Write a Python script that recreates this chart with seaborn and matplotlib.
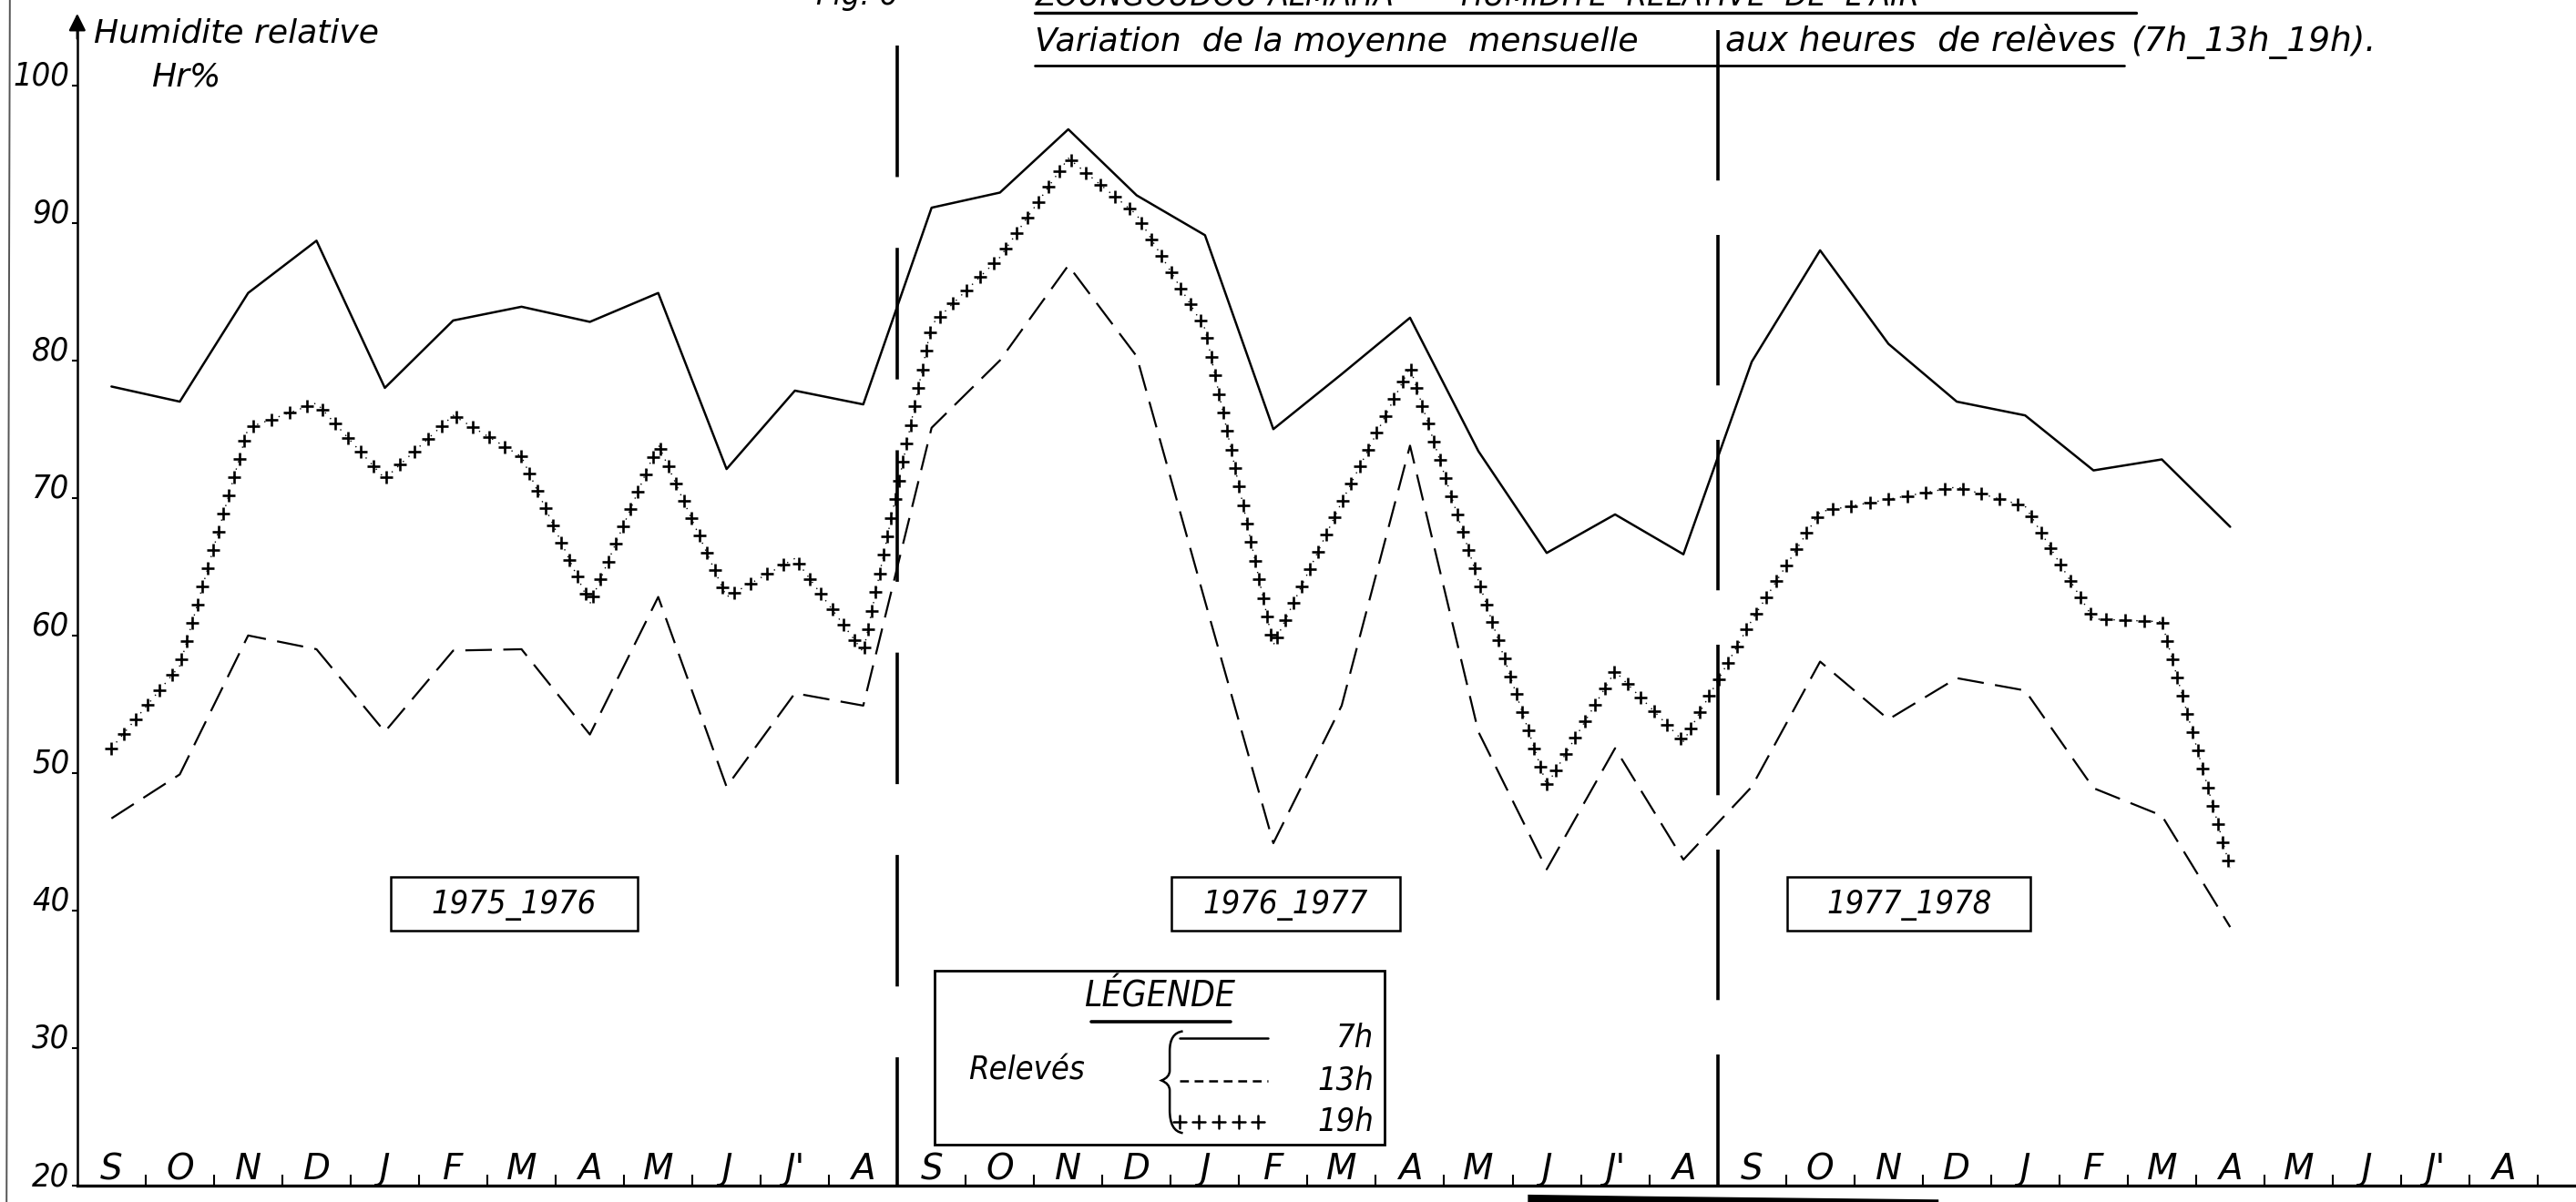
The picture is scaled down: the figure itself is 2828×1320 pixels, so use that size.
import numpy as np
import pandas as pd
import matplotlib
matplotlib.use("Agg")
import matplotlib.pyplot as plt
import seaborn as sns
from matplotlib.path import Path
from matplotlib.patches import Rectangle, PathPatch, Polygon
from matplotlib.lines import Line2D
from matplotlib.patheffects import AbstractPathEffect, Normal
from matplotlib.transforms import Affine2D, IdentityTransform

# ---------------------------------------------------------------- data
months = ["S", "O", "N", "D", "J", "F", "M", "A", "M", "J", "J'", "A"]
seasons = ["1975_1976", "1976_1977", "1977_1978"]

# monthly mean relative humidity (%) at the three reading hours, Sept 1975 -> April 1978
hr_7h = [78.1, 77.0, 84.9, 88.7, 78.0, 82.9, 83.9, 82.8, 84.9, 72.1, 77.8, 76.8,
         91.1, 92.2, 96.8, 92.0, 89.1, 75.0, 79.0, 83.1, 73.4, 66.0, 68.8, 65.9,
         79.9, 88.0, 81.2, 77.0, 76.0, 72.0, 72.8, 67.9]
hr_13h = [46.7, 49.9, 60.0, 59.0, 53.0, 58.9, 59.0, 52.8, 62.8, 49.0, 55.8, 54.9,
          75.1, 80.0, 86.9, 80.3, 62.5, 44.9, 54.9, 73.8, 53.0, 43.0, 51.8, 43.7,
          49.0, 58.1, 53.9, 56.9, 56.0, 48.9, 46.9, 38.8]
hr_19h = [51.8, 57.8, 75.1, 76.9, 71.4, 76.0, 73.0, 62.3, 73.9, 62.8, 65.6, 58.8,
          82.6, 87.5, 94.7, 90.6, 82.3, 59.3, 69.7, 79.5, 64.0, 49.1, 57.4, 52.3,
          61.1, 69.0, 69.9, 70.8, 69.4, 61.2, 61.0, 43.1]
y_ticks = [20, 30, 40, 50, 60, 70, 80, 90, 100]


# ------------------------------------------------- "+++++" line style
class CrossStroke(AbstractPathEffect):
    """Stamp upright '+' crosses at a regular spacing along a drawn path."""

    def __init__(self, spacing=15, size=10, linewidth=1.8):
        super().__init__()
        self._spacing = spacing
        self._size = size
        self._lw = linewidth

    def draw_path(self, renderer, gc, tpath, affine, rgbFace=None):
        verts = affine.transform(tpath.vertices)
        verts = verts[np.isfinite(verts).all(axis=1)]
        if len(verts) < 2:
            return
        step = renderer.points_to_pixels(self._spacing)
        seg = np.hypot(*np.diff(verts, axis=0).T)
        arc = np.concatenate([[0.0], np.cumsum(seg)])
        s = np.arange(0.0, arc[-1] + 1e-9, step)
        px = np.interp(s, arc, verts[:, 0])
        py = np.interp(s, arc, verts[:, 1])
        cross = Path([[-1, 0], [1, 0], [0, -1], [0, 1]],
                     [Path.MOVETO, Path.LINETO, Path.MOVETO, Path.LINETO])
        half = renderer.points_to_pixels(self._size) / 2.0
        gc0 = renderer.new_gc()
        gc0.copy_properties(gc)
        gc0.set_linewidth(self._lw)
        gc0.set_dashes(0, None)
        renderer.draw_markers(gc0, cross, Affine2D().scale(half),
                              Path(np.column_stack([px, py])), IdentityTransform())
        gc0.restore()


# ---------------------------------------------------------------- style
sns.set_theme(style="white")
plt.rcParams["font.family"] = ["DejaVu Sans"]
plt.rcParams["font.style"] = "oblique"
plt.rcParams["font.stretch"] = "condensed"
plt.rcParams["lines.scale_dashes"] = False
plt.rcParams["axes.edgecolor"] = "black"
plt.rcParams["text.color"] = "black"
plt.rcParams["ytick.color"] = "black"
plt.rcParams["xtick.color"] = "black"

INK = "black"
W, H = 1568.0, 732.0
WIDE = dict(fontstretch="normal")


def F(xs, ys):
    """Sheet position (layout grid of the drawing) -> figure fraction."""
    return xs / W, 1.0 - ys / H


fig = plt.figure(figsize=(28.28, 13.2), dpi=100, facecolor="white")
ax = fig.add_axes([0.0300, 0.0136, 0.9700, 0.9864])
ax.set_facecolor("white")

n = len(hr_7h)
df = pd.DataFrame({"mois": np.arange(n), "7h": hr_7h, "13h": hr_13h, "19h": hr_19h})
long = df.melt(id_vars="mois", var_name="releve", value_name="hr")

# 7h : solid
sns.lineplot(data=long[long.releve == "7h"], x="mois", y="hr", ax=ax,
             color=INK, lw=1.8, legend=False)
# 13h : long dashes
sns.lineplot(data=long[long.releve == "13h"], x="mois", y="hr", ax=ax,
             color=INK, lw=1.6, linestyle=(0, (21, 9)), legend=False)
# 19h : crosses along a faint dotted guide
sns.lineplot(data=long[long.releve == "19h"], x="mois", y="hr", ax=ax,
             color=INK, lw=1.0, linestyle=(0, (1, 5)), legend=False)
ax.lines[-1].set_path_effects([Normal(), CrossStroke(spacing=15, size=10.5, linewidth=1.9)])

n_months = len(months) * len(seasons)
ax.set_xlim(-0.5, 36.06)
ax.set_ylim(20, 106.2)
ax.set_xlabel("")
ax.set_ylabel("")

# season separators (long-dash verticals)
for k, (top, pattern) in enumerate([(102.9, (104, 56)), (104.0, (119, 43))], start=1):
    xsep = k * len(months) - 0.5
    ax.plot([xsep, xsep], [top, 20], color=INK, lw=2.6, linestyle=(0, pattern),
            solid_capstyle="butt", dash_capstyle="butt")

# axes
for side in ("top", "right"):
    ax.spines[side].set_visible(False)
ax.spines["left"].set_linewidth(1.8)
ax.spines["left"].set_bounds(20, 104.4)
ax.spines["bottom"].set_linewidth(2.4)
ax.annotate("", xy=(-0.5, 105.4), xytext=(-0.5, 103.2),
            arrowprops=dict(arrowstyle="-|>", color=INK, lw=1.8, mutation_scale=28),
            annotation_clip=False)

ax.set_yticks(y_ticks)
ax.set_yticklabels([str(v) for v in y_ticks])
ax.tick_params(axis="y", direction="out", length=4, width=1.5, pad=2,
               labelsize=26, left=True)
for lbl in ax.get_yticklabels():
    lbl.set_va("baseline")
    lbl.set_fontstyle("oblique")

ax.set_xticks(np.arange(n_months) + 0.5)
ax.set_xticklabels([])
ax.tick_params(axis="x", direction="in", length=9, width=1.5, bottom=True)

month_labels = months * len(seasons)
for i, lab in enumerate(month_labels):
    ax.text(i, 20.45, lab, ha="center", va="baseline", fontsize=28, **WIDE)

# axis title
fig.text(*F(57, 20), "Humidite relative", ha="left", va="center", fontsize=26, **WIDE)
fig.text(*F(92, 47), "Hr%", ha="left", va="center", fontsize=26, **WIDE)

# figure heading (top line runs off the sheet)
fig.text(*F(497, 3), "Fig. 6", ha="left", va="baseline", fontsize=26)
fig.text(*F(630, 3), "ZOUNGOUDOU-ALMAHA  —  HUMIDITE  RELATIVE  DE  L'AIR",
         ha="left", va="baseline", fontsize=26)
fig.add_artist(Line2D(*zip(F(630, 8), F(1300, 8)), transform=fig.transFigure,
                      color=INK, lw=2.4))
fig.text(*F(630, 31), "Variation  de la moyenne  mensuelle", ha="left",
         va="baseline", fontsize=26, **WIDE)
fig.text(*F(1050, 31), "aux heures  de relèves", ha="left", va="baseline",
         fontsize=27, **WIDE)
fig.text(*F(1297, 31), "(7h_13h_19h).", ha="left", va="baseline", fontsize=27, **WIDE)
fig.add_artist(Line2D(*zip(F(630, 40), F(1293, 40)), transform=fig.transFigure,
                      color=INK, lw=2.0))

# season boxes
for lab, (x0, x1) in zip(seasons, [(238, 388), (713, 852), (1088, 1236)]):
    fx0, fy0 = F(x0, 567)
    fx1, fy1 = F(x1, 534)
    fig.add_artist(Rectangle((fx0, fy0), fx1 - fx0, fy1 - fy0, transform=fig.transFigure,
                             fill=False, edgecolor=INK, lw=1.8))
    fig.text(*F((x0 + x1) / 2, 551), lab, ha="center", va="center", fontsize=26)

# legend panel
lx0, ly0 = F(569, 697)
lx1, ly1 = F(843, 591)
fig.add_artist(Rectangle((lx0, ly0), lx1 - lx0, ly1 - ly0, transform=fig.transFigure,
                         fill=False, edgecolor=INK, lw=2.0))
fig.text(*F(706, 607), "LÉGENDE", ha="center", va="center", fontsize=28)
fig.add_artist(Line2D(*zip(F(664, 622), F(749, 622)), transform=fig.transFigure,
                      color=INK, lw=2.6))
fig.text(*F(625, 652), "Relevés", ha="center", va="center", fontsize=26)

brace_pts = [F(720, 628), F(712, 629), F(712, 640), F(712, 652), F(712, 656),
             F(707, 658), F(712, 660), F(712, 664), F(712, 676), F(712, 689),
             F(720, 690)]
brace_codes = [Path.MOVETO, Path.CURVE3, Path.CURVE3, Path.LINETO, Path.CURVE3,
               Path.CURVE3, Path.CURVE3, Path.CURVE3, Path.LINETO, Path.CURVE3,
               Path.CURVE3]
fig.add_artist(PathPatch(Path(brace_pts, brace_codes), transform=fig.transFigure,
                         fill=False, edgecolor=INK, lw=1.8))

sample_x = [718, 772]
legend_rows = [("7h", 632, dict(lw=1.8)),
               ("13h", 658, dict(lw=1.8, linestyle=(0, (7, 4.5)))),
               ("19h", 683, dict(lw=0.0))]
for lab, ys, kw in legend_rows:
    (ax0, ay), (ax1, _) = F(sample_x[0], ys), F(sample_x[1], ys)
    ln = Line2D([ax0, ax1], [ay, ay], transform=fig.transFigure, color=INK, **kw)
    if lab == "19h":
        ln.set_linewidth(0.01)
        ln.set_path_effects([CrossStroke(spacing=15.5, size=10, linewidth=1.8)])
    fig.add_artist(ln)
    fig.text(*F(836, ys), lab, ha="right", va="center", fontsize=26)

# sheet edge and scanner smudge under the axis
fig.add_artist(Line2D(*zip(F(6, 0), F(4, 732)), transform=fig.transFigure,
                      color="#555555", lw=1.4))
fig.add_artist(Polygon([F(930, 727.5), F(1000, 728.5), F(1180, 730.5), F(1180, 732),
                        F(930, 732)],
                       closed=True, transform=fig.transFigure, facecolor=INK,
                       edgecolor="none"))

fig.savefig("out.png", dpi=100, facecolor="white")
